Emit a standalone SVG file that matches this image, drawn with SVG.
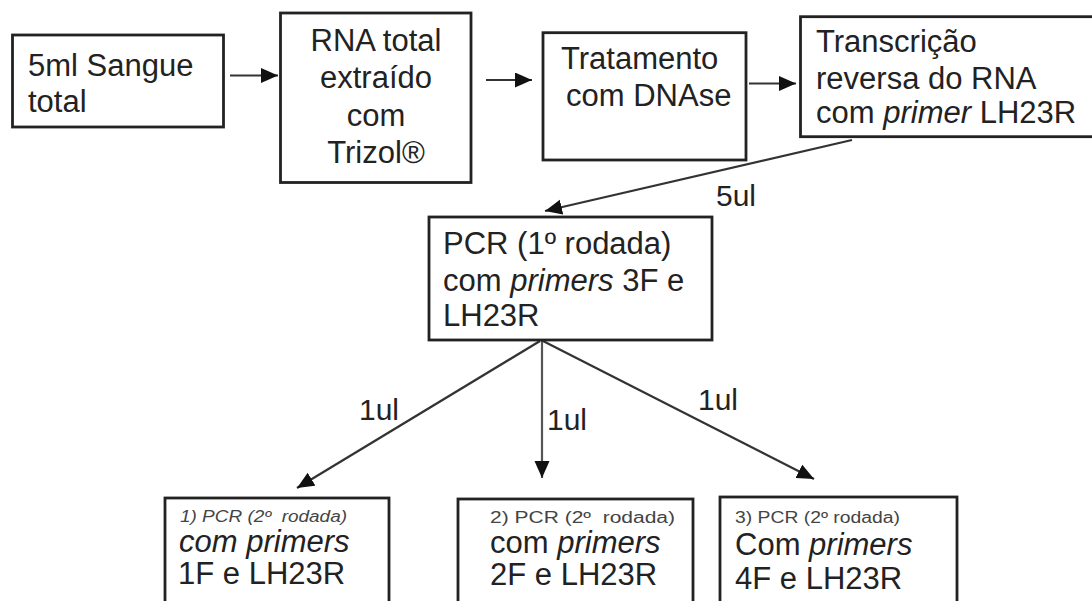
<svg xmlns="http://www.w3.org/2000/svg" width="1092" height="601" viewBox="0 0 1092 601">
<defs>
<style>
.box{fill:#fff;stroke:#222;stroke-width:2.8}
.t{font-family:"Liberation Sans",Arial,sans-serif;font-size:31px;fill:#222}
.c{text-anchor:middle}
.s{font-family:"Liberation Sans",Arial,sans-serif;font-size:16px;fill:#444;white-space:pre}
.i{font-style:italic}
.lbl{font-family:"Liberation Sans",Arial,sans-serif;font-size:30px;fill:#222}
.ln{stroke:#333;stroke-width:2.2;fill:none;marker-end:url(#ah)}
</style>
<marker id="ah" markerUnits="userSpaceOnUse" markerWidth="18" markerHeight="16" refX="17" refY="7.5" orient="auto">
<path d="M0,0 L17,7.5 L0,15 z" fill="#111"/>
</marker>
</defs>
<rect width="1092" height="601" fill="#fff"/>
<g id="connectors">
<line class="ln" x1="230" y1="75.5" x2="278" y2="75.5"/>
<line class="ln" x1="486" y1="80" x2="532" y2="80"/>
<line class="ln" x1="749" y1="83.5" x2="796" y2="83.5"/>
<line class="ln" x1="852" y1="140" x2="545" y2="211"/>
<line class="ln" x1="540" y1="341" x2="297" y2="488"/>
<line class="ln" x1="542" y1="341" x2="542" y2="478" style="stroke:#555"/>
<line class="ln" x1="543" y1="341" x2="814" y2="479"/>
<text class="lbl" x="716" y="206">5ul</text>
<text class="lbl" x="359" y="420">1ul</text>
<text class="lbl" x="547" y="430">1ul</text>
<text class="lbl" x="698" y="410">1ul</text>
</g>
<g id="n1">
<rect class="box" x="12.5" y="35" width="211" height="92"/>
<text class="t" x="28" y="75.5">5ml Sangue</text>
<text class="t" x="28" y="111.5">total</text>
</g>
<g id="n2">
<rect class="box" x="280.5" y="13" width="190.5" height="169.5"/>
<text class="t c" x="376" y="51">RNA total</text>
<text class="t c" x="376" y="88">extraído</text>
<text class="t c" x="376" y="126">com</text>
<text class="t c" x="376" y="163">Trizol®</text>
</g>
<g id="n3">
<rect class="box" x="543" y="32.7" width="203" height="127.3"/>
<text class="t" x="561" y="68.5">Tratamento</text>
<text class="t" x="566" y="105.5">com DNAse</text>
</g>
<g id="n4">
<rect class="box" x="800.5" y="16.7" width="300" height="120"/>
<text class="t" x="816" y="52">Transcrição</text>
<text class="t" x="816" y="89">reversa do RNA</text>
<text class="t" x="816" y="123">com <tspan class="i">primer</tspan> LH23R</text>
</g>
<g id="n5">
<rect class="box" x="429" y="217" width="283" height="123"/>
<text class="t" x="443" y="254">PCR (1º rodada)</text>
<text class="t" x="443" y="290.5">com <tspan class="i">primers</tspan> 3F e</text>
<text class="t" x="443" y="326">LH23R</text>
</g>
<g id="n6">
<rect class="box" x="165" y="498" width="224" height="130"/>
<text class="s i" x="180" y="522" textLength="167" lengthAdjust="spacingAndGlyphs">1) PCR (2º  rodada)</text>
<text class="t i" x="179" y="552">com primers</text>
<text class="t" x="178" y="584">1F e LH23R</text>
</g>
<g id="n7">
<rect class="box" x="458" y="499" width="235" height="130"/>
<text class="s" x="490" y="523" textLength="185" lengthAdjust="spacingAndGlyphs">2) PCR (2º  rodada)</text>
<text class="t" x="490" y="553">com <tspan class="i">primers</tspan></text>
<text class="t" x="490" y="585">2F e LH23R</text>
</g>
<g id="n8">
<rect class="box" x="720" y="497" width="237" height="130"/>
<text class="s" x="735" y="523" textLength="165" lengthAdjust="spacingAndGlyphs">3) PCR (2º rodada)</text>
<text class="t" x="735" y="555">Com <tspan class="i">primers</tspan></text>
<text class="t" x="735" y="589">4F e LH23R</text>
</g>
</svg>
